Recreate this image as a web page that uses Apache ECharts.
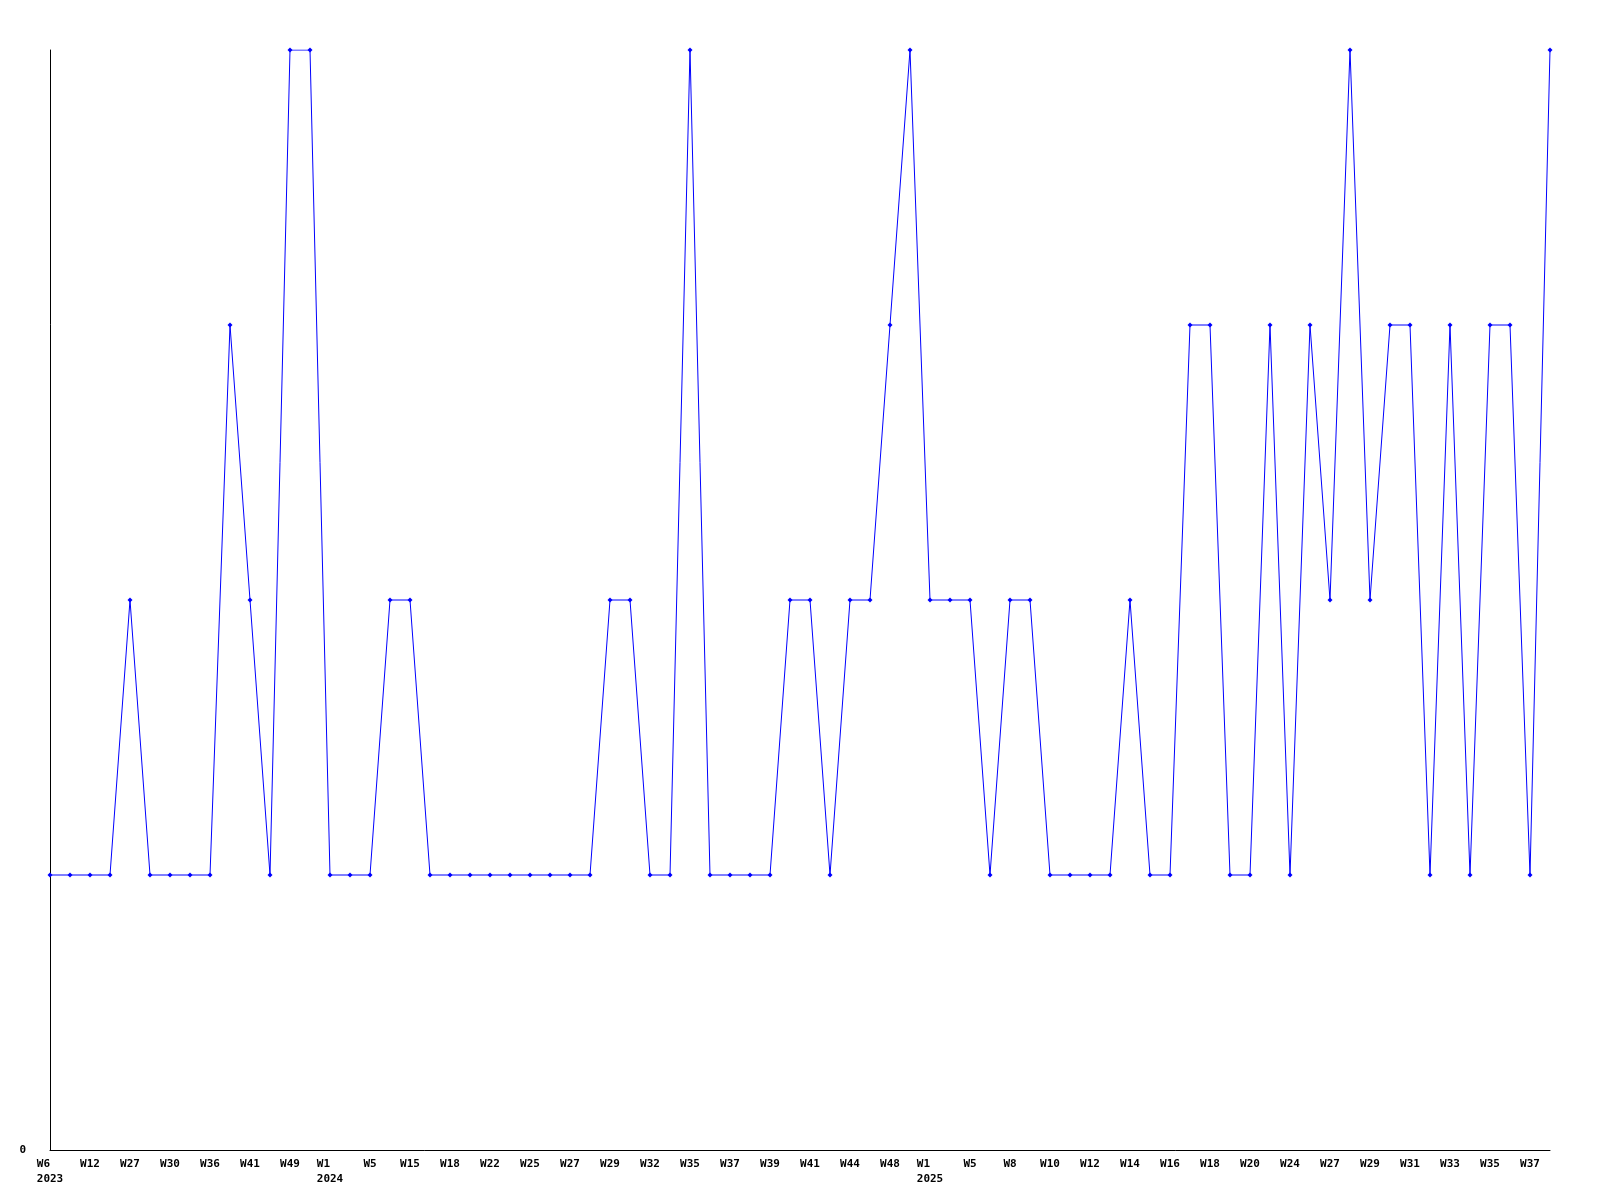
<!DOCTYPE html>
<html>
<head>
<meta charset="utf-8">
<script src="https://cdn.jsdelivr.net/npm/echarts@6/dist/echarts.min.js"></script>
<style>html,body{margin:0;padding:0;background:#fff;}#c{width:1600px;height:1200px;}</style>
</head>
<body>
<div id="c"></div>
<script>
const weeks = ['W6','W9','W12','W20','W27','W28','W30','W33','W36','W39','W41','W45','W49','W51','W1','W3','W5','W10','W15','W16','W18','W20','W22','W24','W25','W26','W27','W28','W29','W31','W32','W33','W35','W36','W37','W38','W39','W40','W41','W43','W44','W46','W48','W50','W1','W3','W5','W7','W8','W9','W10','W11','W12','W13','W14','W15','W16','W17','W18','W19','W20','W22','W24','W26','W27','W28','W29','W30','W31','W32','W33','W34','W35','W36','W37','W38'];
const yearIdx = [0, 14, 44];
const yearText = ['2023', '2024', '2025'];
const values = [1,1,1,1,2,1,1,1,1,3,2,1,4,4,1,1,1,2,2,1,1,1,1,1,1,1,1,1,2,2,1,1,4,1,1,1,1,2,2,1,2,2,3,4,2,2,2,1,2,2,1,1,1,1,2,1,1,3,3,1,1,3,1,3,2,4,2,3,3,1,3,1,3,3,1,4];
const yTicks = [0];

const chart = echarts.init(document.getElementById('c'), null, {renderer: 'canvas'});
chart.setOption({
  animation: false,
  backgroundColor: '#ffffff',
  grid: {left: 50, right: 50, top: 50, bottom: 50, containLabel: false},
  xAxis: {
    type: 'category',
    data: weeks,
    boundaryGap: false,
    axisLine: {show: true, lineStyle: {color: '#000', width: 1}},
    axisTick: {show: false},
    splitLine: {show: false},
    axisLabel: {
      interval: 1,
      margin: 7,
      color: '#000',
      fontFamily: 'DejaVu Sans Mono',
      fontWeight: 'bold',
      fontSize: 11,
      lineHeight: 15,
      formatter: function (v, i) {
        const k = yearIdx.indexOf(i);
        if (k >= 0) {
          const y = yearText[k];
          let w = v;
          while (w.length < y.length) w += ' ';
          return w + '\n' + y;
        }
        return v;
      }
    }
  },
  yAxis: {
    type: 'value',
    min: 0,
    max: 4,
    interval: 1,
    axisLine: {show: true, lineStyle: {color: '#000', width: 1}},
    axisTick: {show: false},
    splitLine: {show: false},
    axisLabel: {
      margin: 24,
      color: '#000',
      fontFamily: 'DejaVu Sans Mono',
      fontWeight: 'bold',
      fontSize: 11,
      formatter: function (v) { return yTicks.indexOf(v) >= 0 ? String(v) : ''; }
    }
  },
  series: [{
    type: 'line',
    data: values,
    symbol: 'diamond',
    symbolSize: 5,
    showAllSymbol: true,
    lineStyle: {color: '#0000ff', width: 1},
    itemStyle: {color: '#0000ff'}
  }]
});
</script>
</body>
</html>
